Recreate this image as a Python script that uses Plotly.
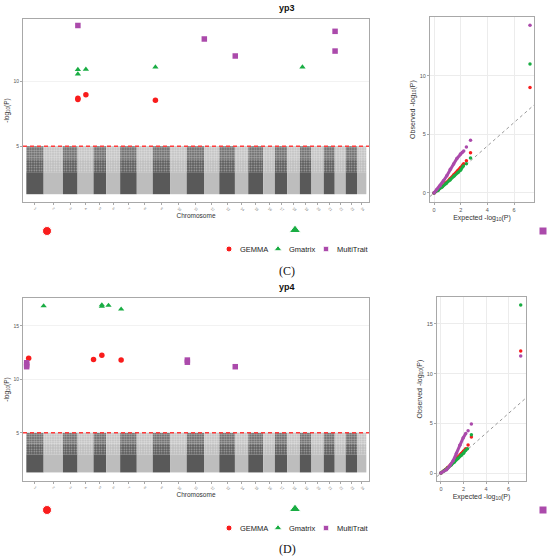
import plotly.graph_objects as go

# ---- data ----
chrom_names = [str(i) for i in range(1, 25)]
chrom_len = [52, 58, 44, 48, 38, 42, 50, 48, 52, 50, 52, 46,
             47, 40, 45, 35, 37, 38, 35, 37, 33, 33, 34, 28]
# background SNP cloud: floor, top of the dense band, upper cloud levels
bg_floor = 1.3
bg_dense = 3.0
bg_mid = 4.0
bg_top = 5.0
threshold = 5.0

methods = ["GEMMA", "Gmatrix", "MultiTrait"]

# yp3 hits (cumulative genome position, -log10 P)
yp3_gemma_pos = [155, 155, 179, 388]
yp3_gemma_p = [8.69, 8.6, 8.97, 8.54]
yp3_gmatrix_pos = [155, 155, 179, 388, 830]
yp3_gmatrix_p = [10.9, 10.56, 10.92, 11.1, 11.1]
yp3_multi_pos = [155, 535, 628, 928, 928]
yp3_multi_p = [14.3, 13.26, 11.95, 13.85, 12.33]

# yp4 hits
yp4_gemma_pos = [7, 202, 227, 285]
yp4_gemma_p = [11.96, 11.86, 12.24, 11.8]
yp4_gmatrix_pos = [52, 227, 227, 247, 285]
yp4_gmatrix_p = [16.86, 16.95, 16.82, 16.9, 16.55]
yp4_multi_pos = [1, 1, 1, 484, 484, 628]
yp4_multi_p = [11.55, 11.35, 11.18, 11.8, 11.6, 11.18]

# QQ plots: expected vs observed -log10 P
yp3_qq_gemma_x = [0, 0.3, 0.6, 0.9, 1.2, 1.5, 1.8, 2.0, 2.18, 2.23, 2.43, 2.74, 7.2]
yp3_qq_gemma_y = [0, 0.25, 0.55, 0.85, 1.2, 1.55, 1.9, 2.15, 2.4, 2.48, 2.74, 3.42, 9.0]
yp3_qq_gmatrix_x = [0, 0.3, 0.6, 0.9, 1.2, 1.5, 1.8, 2.0, 2.2, 2.43, 2.74, 7.2]
yp3_qq_gmatrix_y = [0, 0.22, 0.5, 0.8, 1.1, 1.45, 1.75, 1.95, 2.3, 2.5, 2.99, 11.0]
yp3_qq_multi_x = [0, 0.2, 0.46, 0.71, 0.96, 1.22, 1.47, 1.72, 1.98, 2.13, 2.23, 2.43, 2.74, 7.2]
yp3_qq_multi_y = [0, 0.28, 0.62, 1.04, 1.47, 2.03, 2.46, 2.94, 3.33, 3.47, 3.58, 3.92, 4.49, 14.3]

yp4_qq_gemma_x = [0, 0.3, 0.6, 0.9, 1.2, 1.5, 1.8, 2.0, 2.2, 2.41, 2.7, 7.08]
yp4_qq_gemma_y = [0, 0.25, 0.55, 0.88, 1.22, 1.58, 1.95, 2.2, 2.45, 2.82, 3.63, 12.27]
yp4_qq_gmatrix_x = [0, 0.3, 0.6, 0.9, 1.2, 1.5, 1.8, 2.0, 2.2, 2.35, 2.7, 7.08]
yp4_qq_gmatrix_y = [0, 0.22, 0.5, 0.8, 1.1, 1.45, 1.78, 2.0, 2.3, 2.45, 3.84, 16.9]
yp4_qq_multi_x = [0, 0.5, 0.79, 1.09, 1.38, 1.67, 1.97, 2.2, 2.41, 2.7, 7.08]
yp4_qq_multi_y = [0, 0.34, 0.74, 1.26, 2.0, 2.79, 3.53, 3.98, 4.25, 4.92, 11.77]

# ---- styling ----
RED = "#f91c1c"
GREEN = "#19ad43"
PURPLE = "#ab4aab"
colors = [RED, GREEN, PURPLE]
symbols = ["circle", "triangle-up", "square"]
DARK = "#595959"
LIGHT = "#bdbdbd"
FONT = "Liberation Sans, Arial, sans-serif"
W, H = 550, 560

fig = go.Figure()

# page-pixel overlay first, so the panels sit on top of it
key_rows = [231, 510]
legend_rows = [249, 528]
for ky in key_rows:
    fig.add_trace(go.Scatter(x=[47, 295, 543], y=[ky, ky - 1, ky], mode="markers",
                             marker=dict(color=colors, symbol=symbols, size=[9, 10, 8], opacity=1),
                             xaxis="x5", yaxis="y5", showlegend=False, hoverinfo="skip"))
for ly in legend_rows:
    fig.add_trace(go.Scatter(x=[229, 278, 326], y=[ly, ly, ly], mode="markers",
                             marker=dict(color=colors, symbol=symbols, size=[6, 7, 5.5], opacity=1),
                             xaxis="x5", yaxis="y5", showlegend=False, hoverinfo="skip"))

# chromosome centres from lengths
starts = []
s = 0
for L in chrom_len:
    starts.append(s)
    s += L
centers = [st + L / 2 for st, L in zip(starts, chrom_len)]
genome_end = s

# white speckle share in the upper cloud (lower half, upper half)
speckle = {DARK: [0.35, 0.6], LIGHT: [0.28, 0.5]}


def manhattan(xa, ya, hits):
    for i, (cx, cw) in enumerate(zip(centers, chrom_len)):
        col = DARK if i % 2 == 0 else LIGHT
        fig.add_trace(go.Bar(x=[cx], width=[cw], base=[bg_floor], y=[bg_dense - bg_floor],
                             marker=dict(color=col, line_width=0),
                             xaxis=xa, yaxis=ya, showlegend=False, hoverinfo="skip"))
        for (lo, hi), sol in zip([(bg_dense, bg_mid), (bg_mid, bg_top)], speckle[col]):
            fig.add_trace(go.Bar(x=[cx], width=[cw], base=[lo], y=[hi - lo],
                                 marker=dict(color=col, line_width=0,
                                             pattern=dict(shape=".", fgcolor="white",
                                                          bgcolor=col, size=2.5,
                                                          solidity=sol)),
                                 xaxis=xa, yaxis=ya, showlegend=False, hoverinfo="skip"))
    fig.add_trace(go.Scatter(x=[-10, genome_end + 8], y=[threshold, threshold],
                             mode="lines", line=dict(color="#ff3b3b", width=1.5, dash="4px,3px"),
                             xaxis=xa, yaxis=ya, showlegend=False, hoverinfo="skip"))
    for (px, py), c, sym, name in zip(hits, colors, symbols, methods):
        fig.add_trace(go.Scatter(x=px, y=py, mode="markers", name=name,
                                 marker=dict(color=c, symbol=sym, size=5.5),
                                 xaxis=xa, yaxis=ya, showlegend=False))


def qq(xa, ya, series, xr):
    fig.add_trace(go.Scatter(x=xr, y=xr, mode="lines",
                             line=dict(color="#8c8c8c", width=0.9, dash="3px,3px"),
                             xaxis=xa, yaxis=ya, showlegend=False, hoverinfo="skip"))
    for (qx, qy), c in zip(series, colors):
        bx = [a for a in qx if a <= 2.2]
        by = [b for a, b in zip(qx, qy) if a <= 2.2]
        fig.add_trace(go.Scatter(x=bx, y=by, mode="lines", line=dict(color=c, width=3),
                                 xaxis=xa, yaxis=ya, showlegend=False, hoverinfo="skip"))
        fig.add_trace(go.Scatter(x=qx, y=qy, mode="markers",
                                 marker=dict(color=c, size=3.5),
                                 xaxis=xa, yaxis=ya, showlegend=False))


manhattan("x", "y", [(yp3_gemma_pos, yp3_gemma_p), (yp3_gmatrix_pos, yp3_gmatrix_p),
                     (yp3_multi_pos, yp3_multi_p)])
manhattan("x3", "y3", [(yp4_gemma_pos, yp4_gemma_p), (yp4_gmatrix_pos, yp4_gmatrix_p),
                       (yp4_multi_pos, yp4_multi_p)])
qq("x2", "y2", [(yp3_qq_gemma_x, yp3_qq_gemma_y), (yp3_qq_gmatrix_x, yp3_qq_gmatrix_y),
                (yp3_qq_multi_x, yp3_qq_multi_y)], [-0.3, 7.5])
qq("x4", "y4", [(yp4_qq_gemma_x, yp4_qq_gemma_y), (yp4_qq_gmatrix_x, yp4_qq_gmatrix_y),
                (yp4_qq_multi_x, yp4_qq_multi_y)], [-0.35, 7.55])

annotations = []
for ly in legend_rows:
    for tx, name in zip([238, 287, 335], methods):
        annotations.append(dict(x=tx / W, y=1 - ly / H, xref="paper", yref="paper", text=name,
                                showarrow=False, xanchor="left", yanchor="middle",
                                font=dict(family=FONT, size=7.5, color="#222")))
for tx, ty in [("yp3", 8), ("yp4", 287)]:
    annotations.append(dict(x=287 / W, y=1 - ty / H, xref="paper", yref="paper",
                            text="<b>%s</b>" % tx, showarrow=False, yanchor="middle",
                            font=dict(family=FONT, size=9, color="#111")))
for tx, ty in [("(C)", 271), ("(D)", 549)]:
    annotations.append(dict(x=287 / W, y=1 - ty / H, xref="paper", yref="paper", text=tx,
                            showarrow=False, yanchor="middle",
                            font=dict(family="Liberation Serif, Times New Roman, serif",
                                      size=12, color="#111")))


def dom(a, b, full):
    return [a / full, b / full]


def ydom(top, bottom):
    return [1 - bottom / H, 1 - top / H]


border = dict(showline=True, linecolor="#a8a8a8", linewidth=1, mirror=True, zeroline=False,
              ticks="outside", ticklen=2, tickcolor="#a8a8a8")
tickf = dict(family=FONT, size=5, color="#555")
titlef = dict(family=FONT, size=6.5, color="#333")
qqtick = dict(family=FONT, size=5.5, color="#555")
qqtitle = dict(family=FONT, size=7, color="#333")

man_x = dict(border, domain=dom(23, 369, W), range=[-10, genome_end + 8], tickvals=centers,
             ticktext=chrom_names, tickangle=45, tickfont=dict(family=FONT, size=3.5, color="#777"),
             showgrid=False, title=dict(text="Chromosome", font=titlef, standoff=2))
qq_grid = dict(showgrid=True, gridcolor="#ececec", gridwidth=0.8)

fig.update_layout(
    width=W, height=H, margin=dict(l=0, r=0, t=0, b=0),
    paper_bgcolor="white", plot_bgcolor="rgba(0,0,0,0)", barmode="overlay",
    showlegend=False, annotations=annotations,
    xaxis=dict(man_x, anchor="y"),
    yaxis=dict(border, domain=ydom(19, 202), range=[0.7, 14.8], tickvals=[5, 10],
               tickfont=tickf, showgrid=True, gridcolor="#f2f2f2", anchor="x",
               title=dict(text="-log<sub>10</sub>(P)", font=titlef, standoff=3)),
    xaxis3=dict(man_x, anchor="y3"),
    yaxis3=dict(border, domain=ydom(298, 481), range=[0.5, 17.6], tickvals=[5, 10, 15],
                tickfont=tickf, showgrid=True, gridcolor="#f2f2f2", anchor="x3",
                title=dict(text="-log<sub>10</sub>(P)", font=titlef, standoff=3)),
    xaxis2=dict(border, **qq_grid, domain=dom(430, 534, W), range=[-0.3, 7.5], anchor="y2",
                tickvals=[0, 2, 4, 6], tickfont=qqtick,
                title=dict(text="Expected -log<sub>10</sub>(P)", font=qqtitle, standoff=3)),
    yaxis2=dict(border, **qq_grid, domain=ydom(17, 202), range=[-0.77, 15.0], anchor="x2",
                tickvals=[0, 5, 10], tickfont=qqtick,
                title=dict(text="Observed -log<sub>10</sub>(P)", font=qqtitle, standoff=3)),
    xaxis4=dict(border, **qq_grid, domain=dom(437, 526, W), range=[-0.35, 7.55], anchor="y4",
                tickvals=[0, 2, 4, 6], tickfont=qqtick,
                title=dict(text="Expected -log<sub>10</sub>(P)", font=qqtitle, standoff=3)),
    yaxis4=dict(border, **qq_grid, domain=ydom(297, 481), range=[-0.8, 17.7], anchor="x4",
                tickvals=[0, 5, 10, 15], tickfont=qqtick,
                title=dict(text="Observed -log<sub>10</sub>(P)", font=qqtitle, standoff=3)),
    xaxis5=dict(domain=[0, 1], range=[0, W], visible=False, anchor="y5", fixedrange=True),
    yaxis5=dict(domain=[0, 1], range=[H, 0], visible=False, anchor="x5", fixedrange=True),
)

fig.write_html("out.html", config={"displayModeBar": False},
               post_script="document.body.style.margin='0';")
